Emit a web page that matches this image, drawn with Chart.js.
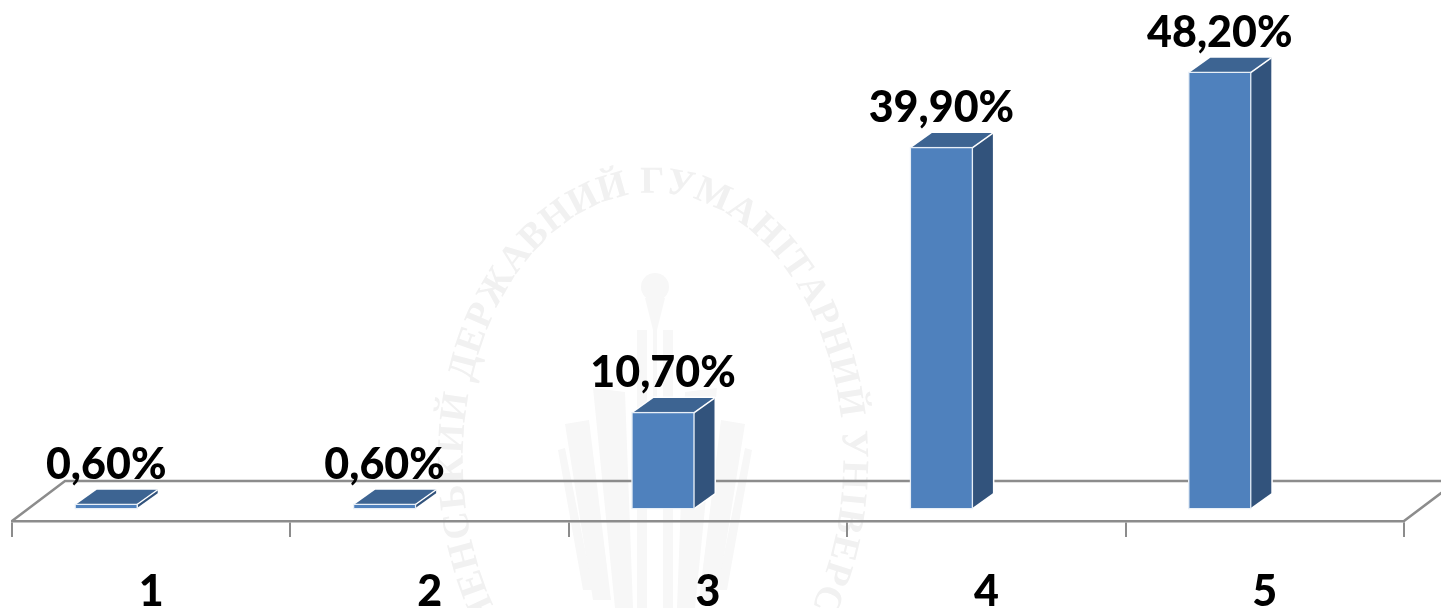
<!DOCTYPE html>
<html><head><meta charset="utf-8">
<style>html,body{margin:0;padding:0;background:#fff;overflow:hidden}#w{position:relative;width:1441px;height:608px}canvas{display:block}</style>
<script src="https://cdn.jsdelivr.net/npm/chart.js@4"></script>
</head><body><div id="w"><canvas id="c" width="1441" height="608"></canvas></div>
<script>
const categories = ['1','2','3','4','5'];
const shares = [0.6,0.6,10.7,39.9,48.2];
const sealText = 'РІВНЕНСЬКИЙ ДЕРЖАВНИЙ ГУМАНІТАРНИЙ УНІВЕРСИТЕТ';

const FONT = 'Lato';
const AXIS = '#8c8c8c', FRONT = '#4f81bd', TOP = '#3d6492', SIDE = '#32537c', WM = '#f1f1f1', WM2 = '#f7f7f7';
const SHIFT = -45, DX = 21, DY = -15, FLOOR_DX = 53, FLOOR_DY = -40;

function poly(ctx, pts, fill){ ctx.beginPath(); pts.forEach((p,i)=>i?ctx.lineTo(p[0],p[1]):ctx.moveTo(p[0],p[1])); ctx.closePath(); ctx.fillStyle=fill; ctx.fill(); }

const seal = { id:'seal', beforeDraw(chart){
  const ctx = chart.ctx, cx=653, cy=460, a=200, b=277;
  ctx.save();
  const pts=[]; let len=0, prev=null;
  for(let t=-Math.PI; t<=Math.PI; t+=0.002){
    const p=[cx+a*Math.sin(t), cy-b*Math.cos(t)];
    if(prev) len+=Math.hypot(p[0]-prev[0],p[1]-prev[1]);
    pts.push([p[0],p[1],t,len]); prev=p;
  }
  const zero = pts.find(p=>p[2]>=0)[3];
  ctx.font='bold 38px "Liberation Serif"'; ctx.fillStyle=WM; ctx.textAlign='center'; ctx.textBaseline='middle';
  const chars=[...sealText], gIdx=sealText.indexOf('ГУМАНІТАРНИЙ'), gap=2;
  const adv=chars.map(c=>ctx.measureText(c).width+gap);
  const sum=(from,to)=>adv.slice(from,to).reduce((x,y)=>x+y,0);
  chars.forEach((ch,i)=>{
    const s = zero - 14 + (i>=gIdx ? sum(gIdx,i) : -sum(i,gIdx)) + adv[i]/2;
    const p = pts.find(q=>q[3]>=s); if(!p) return;
    const ang = Math.atan2(b*Math.sin(p[2]), a*Math.cos(p[2]));
    ctx.save(); ctx.translate(p[0],p[1]); ctx.rotate(ang); ctx.fillText(ch,0,0); ctx.restore();
  });
  const m=655;
  ctx.fillStyle=WM2;
  ctx.beginPath(); ctx.arc(m,287,14,0,7); ctx.fill();
  poly(ctx,[[m-10,298],[m+10,298],[m+2,330],[m+2,420],[m-2,420],[m-2,330]],WM2);
  [[-18,-8],[8,18]].forEach(r=>poly(ctx,[[m+r[0],330],[m+r[1],330],[m+r[1],608],[m+r[0],608]],WM2));
  [-1,1].forEach(s=>{
    poly(ctx,[[m+s*62,388],[m+s*30,392],[m+s*22,608],[m+s*40,608]],WM2);
    poly(ctx,[[m+s*90,424],[m+s*66,420],[m+s*44,600],[m+s*62,600]],WM2);
    poly(ctx,[[m+s*97,450],[m+s*90,448],[m+s*62,590],[m+s*72,590]],WM2);
  });
  ctx.restore();
}};

const solid = { id:'solid',
  beforeDatasetsDraw(chart){
    const ctx=chart.ctx, {left,right,bottom}=chart.chartArea;
    ctx.save();
    ctx.strokeStyle=AXIS; ctx.lineWidth=2.5;
    ctx.beginPath();
    ctx.moveTo(left,bottom); ctx.lineTo(left+FLOOR_DX,bottom+FLOOR_DY); ctx.lineTo(right+FLOOR_DX,bottom+FLOOR_DY); ctx.lineTo(right,bottom);
    ctx.stroke();
    const meta=chart.getDatasetMeta(0);
    meta.data.forEach(el=>{
      const l=el.x-el.width/2+1+SHIFT, r=el.x+el.width/2-1+SHIFT, t=el.y+1, f=el.base-1;
      ctx.lineWidth=3; ctx.strokeStyle='#fff'; ctx.lineJoin='round';
      ctx.beginPath(); ctx.moveTo(r,t); ctx.lineTo(r+DX,t+DY); ctx.lineTo(r+DX,f+DY); ctx.lineTo(r,f); ctx.stroke();
      ctx.beginPath(); ctx.moveTo(l,t); ctx.lineTo(l+DX,t+DY); ctx.lineTo(r+DX,t+DY); ctx.stroke();
      poly(ctx,[[r,t],[r+DX,t+DY],[r+DX,f+DY],[r,f]],SIDE);
      poly(ctx,[[l,t],[l+DX,t+DY],[r+DX,t+DY],[r,t]],TOP);
      ctx.lineWidth=1.5; ctx.strokeStyle='#fff';
      ctx.beginPath(); ctx.moveTo(r,t); ctx.lineTo(r+DX,t+DY); ctx.stroke();
    });
    ctx.restore();
    ctx.save(); ctx.translate(SHIFT,0);
  },
  afterDatasetsDraw(chart){
    const ctx=chart.ctx; ctx.restore();
    ctx.save();
    ctx.font='900 43px '+FONT; ctx.fillStyle='#000'; ctx.textAlign='center'; ctx.textBaseline='alphabetic';
    chart.getDatasetMeta(0).data.forEach((el,i)=>{
      ctx.fillText(shares[i].toFixed(2).replace('.',',')+'%', el.x+SHIFT, el.y-25);
    });
    ctx.restore();
  }
};

new Chart(document.getElementById('c'),{
  type:'bar',
  data:{labels:categories,datasets:[{data:shares,backgroundColor:FRONT,borderColor:'#e8eff7',borderWidth:1.5,borderSkipped:false,barThickness:63,clip:false}]},
  plugins:[seal,solid],
  options:{
    responsive:false,animation:false,devicePixelRatio:1,
    layout:{padding:{left:12,right:37,top:1,bottom:0}},
    plugins:{legend:{display:false},tooltip:{enabled:false},title:{display:false}},
    scales:{
      x:{offset:true,
        border:{color:AXIS,width:2.5},
        grid:{offset:true,drawOnChartArea:false,color:AXIS,lineWidth:2,tickLength:16},
        ticks:{color:'#000',font:{family:FONT,size:43,weight:'900'},padding:29,maxRotation:0},
        afterFit(s){s.height=87;}
      },
      y:{display:false,min:-1.3,max:56}
    }
  }
});
</script>
</body></html>
